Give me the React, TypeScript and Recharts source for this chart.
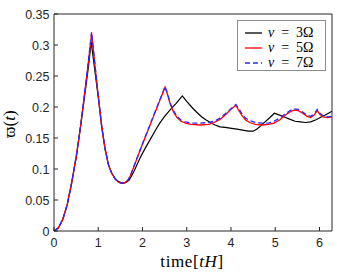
import React from "react";
import { LineChart, Line, XAxis, YAxis, Legend } from "recharts";

// time grid + values
const timeRed = [
  0, 0.1, 0.2, 0.3, 0.4, 0.5, 0.6, 0.7, 0.78, 0.85, 0.92, 1.0, 1.08, 1.15, 1.23, 1.3, 1.38, 1.45, 1.52, 1.6,
  1.66, 1.72, 1.85, 2.0, 2.2, 2.4, 2.51, 2.57, 2.63, 2.7, 2.78, 2.87, 2.97, 3.1, 3.3, 3.5, 3.62, 3.75, 3.87,
  3.98, 4.11, 4.18, 4.25, 4.33, 4.42, 4.55, 4.7, 4.85, 4.97, 5.1, 5.23, 5.33, 5.42, 5.52, 5.62, 5.72, 5.8,
  5.88, 5.95, 6.01, 6.08, 6.18, 6.283,
];
const omegaRed = [
  0, 0.005, 0.019, 0.043, 0.078, 0.119, 0.169, 0.226, 0.274, 0.319, 0.271, 0.218, 0.168, 0.134, 0.107, 0.094,
  0.084, 0.079, 0.077, 0.078, 0.081, 0.088, 0.112, 0.14, 0.176, 0.212, 0.232, 0.219, 0.204, 0.192, 0.183,
  0.177, 0.174, 0.172, 0.171, 0.172, 0.175, 0.18, 0.187, 0.195, 0.203, 0.194, 0.186, 0.179, 0.175, 0.172,
  0.171, 0.172, 0.174, 0.179, 0.187, 0.192, 0.195, 0.194, 0.19, 0.185, 0.183, 0.187, 0.194, 0.188, 0.184,
  0.183, 0.184,
];
// blue shares the red time grid
const omegaBlue = [
  0, 0.005, 0.019, 0.043, 0.078, 0.119, 0.169, 0.227, 0.276, 0.321, 0.272, 0.218, 0.168, 0.134, 0.107, 0.094,
  0.084, 0.079, 0.077, 0.078, 0.081, 0.088, 0.113, 0.141, 0.177, 0.213, 0.233, 0.221, 0.206, 0.194, 0.185,
  0.179, 0.176, 0.174, 0.174, 0.175, 0.177, 0.182, 0.189, 0.196, 0.204, 0.197, 0.189, 0.182, 0.178, 0.175,
  0.174, 0.174, 0.177, 0.182, 0.189, 0.194, 0.197, 0.196, 0.192, 0.187, 0.185, 0.189, 0.196, 0.19, 0.186,
  0.184, 0.185,
];
const timeBlack = [
  0, 0.1, 0.2, 0.3, 0.4, 0.5, 0.6, 0.7, 0.78, 0.84, 0.9, 1.0, 1.08, 1.15, 1.23, 1.3, 1.38, 1.45, 1.55, 1.62,
  1.7, 1.8, 1.94, 2.05, 2.17, 2.28, 2.39, 2.5, 2.62, 2.76, 2.9, 3.0, 3.11, 3.22, 3.34, 3.44, 3.53, 3.64, 3.75,
  3.87, 3.98, 4.17, 4.39, 4.5, 4.58, 4.68, 4.77, 4.88, 4.98, 5.1, 5.23, 5.34, 5.45, 5.57, 5.68, 5.8, 5.91,
  6.02, 6.13, 6.283,
];
const omegaBlack = [
  0, 0.005, 0.019, 0.043, 0.078, 0.118, 0.168, 0.222, 0.266, 0.305, 0.272, 0.216, 0.167, 0.134, 0.107, 0.094,
  0.085, 0.08, 0.077, 0.078, 0.082, 0.095, 0.117, 0.132, 0.147, 0.161, 0.174, 0.185, 0.195, 0.206, 0.218,
  0.209, 0.2, 0.192, 0.184, 0.179, 0.175, 0.171, 0.168, 0.167, 0.166, 0.164, 0.161, 0.161, 0.164, 0.17, 0.176,
  0.183, 0.19, 0.187, 0.183, 0.18, 0.177, 0.176, 0.175, 0.176, 0.179, 0.183, 0.187, 0.193,
];

const xTicks = [0, 1, 2, 3, 4, 5, 6];
const yTicks = [0, 0.05, 0.1, 0.15, 0.2, 0.25, 0.3, 0.35];
const nuLabels = ["3Ω", "5Ω", "7Ω"];
const seriesColors = ["#000000", "#ff0000", "#2a2aff"];
const seriesDash = [undefined, undefined, "5 3"];

const AXIS = "#262626";
const SANS = "'Liberation Sans', Arial, sans-serif";
const SERIF = "'Liberation Serif', 'Times New Roman', serif";

const toPoints = (ts: number[], vs: number[]) => ts.map((t, i) => ({ t, v: vs[i] }));

const BottomTick = ({ x, y, payload }: any) => (
  <g>
    <line x1={x} x2={x} y1={y} y2={y - 4} stroke={AXIS} />
    <text x={x} y={y + 16} textAnchor="middle" fill={AXIS} fontSize={12.5} fontFamily={SANS}>
      {payload.value}
    </text>
  </g>
);
const TopTick = ({ x, y }: any) => <line x1={x} x2={x} y1={y} y2={y + 4} stroke={AXIS} />;
const LeftTick = ({ x, y, payload }: any) => (
  <g>
    <line x1={x} x2={x + 4} y1={y} y2={y} stroke={AXIS} />
    <text x={x - 4.5} y={y + 4.5} textAnchor="end" fill={AXIS} fontSize={12.5} fontFamily={SANS}>
      {payload.value}
    </text>
  </g>
);
const RightTick = ({ x, y }: any) => <line x1={x} x2={x - 4} y1={y} y2={y} stroke={AXIS} />;

const renderLegend = () => (
  <div
    style={{
      border: "1px solid #8c8c8c",
      background: "#fff",
      padding: "4px 0 0 7px",
      width: 89,
      height: 51,
      boxSizing: "border-box",
    }}
  >
    {nuLabels.map((lab, i) => (
      <div key={lab} style={{ display: "flex", alignItems: "center", height: 15 }}>
        <svg width={17} height={4} style={{ display: "block" }}>
          <line x1={0} x2={17} y1={2} y2={2} stroke={seriesColors[i]} strokeWidth={1.3} strokeDasharray={seriesDash[i]} />
        </svg>
        <span style={{ marginLeft: 6, fontFamily: SERIF, fontSize: 14, color: "#000", whiteSpace: "nowrap" }}>
          <i>ν</i>
          {"\u2002=\u2002" + lab}
        </span>
      </div>
    ))}
  </div>
);

export default function App() {
  const black = toPoints(timeBlack, omegaBlack);
  const red = toPoints(timeRed, omegaRed);
  const blue = toPoints(timeRed, omegaBlue);

  return (
    <div style={{ position: "relative", width: 337, height: 274, background: "#fff" }}>
      <style>{"body{margin:0}"}</style>
      {/* axes get 1px so recharts still draws them; margins make the plot box 54..332 x 14..231 */}
      <LineChart width={337} height={274} margin={{ top: 13, right: 4, bottom: 42, left: 53 }}>
        <XAxis
          xAxisId="b"
          type="number"
          dataKey="t"
          domain={[0, 2 * Math.PI]}
          ticks={xTicks}
          interval={0}
          height={1}
          tickSize={0}
          tickMargin={0}
          tickLine={false}
          axisLine={{ stroke: AXIS }}
          tick={BottomTick}
        />
        <XAxis
          xAxisId="t"
          orientation="top"
          type="number"
          dataKey="t"
          domain={[0, 2 * Math.PI]}
          ticks={xTicks}
          interval={0}
          height={1}
          tickSize={0}
          tickMargin={0}
          tickLine={false}
          axisLine={{ stroke: AXIS }}
          tick={TopTick}
        />
        <YAxis
          yAxisId="l"
          type="number"
          domain={[0, 0.35]}
          ticks={yTicks}
          interval={0}
          width={1}
          tickSize={0}
          tickMargin={0}
          tickLine={false}
          axisLine={{ stroke: AXIS }}
          tick={LeftTick}
        />
        <YAxis
          yAxisId="r"
          orientation="right"
          type="number"
          domain={[0, 0.35]}
          ticks={yTicks}
          interval={0}
          width={1}
          tickSize={0}
          tickMargin={0}
          tickLine={false}
          axisLine={{ stroke: AXIS }}
          tick={RightTick}
        />
        <Line data={black} xAxisId="b" yAxisId="l" dataKey="v" type="linear" name="ν = 3Ω"
          stroke={seriesColors[0]} strokeWidth={1.2} dot={false} activeDot={false} isAnimationActive={false} />
        <Line data={red} xAxisId="b" yAxisId="l" dataKey="v" type="linear" name="ν = 5Ω"
          stroke={seriesColors[1]} strokeWidth={1.3} dot={false} activeDot={false} isAnimationActive={false} />
        <Line data={blue} xAxisId="b" yAxisId="l" dataKey="v" type="linear" name="ν = 7Ω"
          stroke={seriesColors[2]} strokeWidth={1.3} strokeDasharray="5 3" dot={false} activeDot={false} isAnimationActive={false} />
        <Legend
          layout="horizontal"
          align="center"
          verticalAlign="middle"
          content={renderLegend}
          wrapperStyle={{ top: 20, left: 237, width: 89, height: 51 }}
        />
      </LineChart>
      <div
        style={{
          position: "absolute",
          left: 9,
          top: 124,
          transform: "translate(-50%, -50%) rotate(-90deg)",
          fontFamily: SERIF,
          fontSize: 17,
          lineHeight: "17px",
          whiteSpace: "nowrap",
          color: "#000",
        }}
      >
        ϖ(<i>t</i>)
      </div>
      <div
        style={{
          position: "absolute",
          left: 192,
          top: 252.5,
          transform: "translateX(-50%)",
          fontFamily: SERIF,
          fontSize: 17,
          lineHeight: "17px",
          letterSpacing: 0.6,
          whiteSpace: "nowrap",
          color: "#000",
        }}
      >
        time[<i>tH</i>]
      </div>
    </div>
  );
}
